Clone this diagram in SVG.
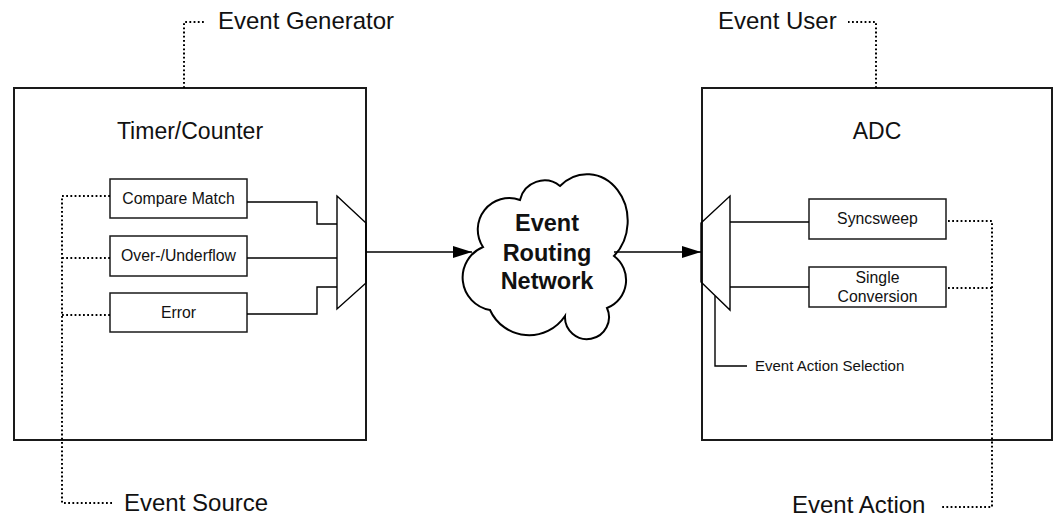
<svg xmlns="http://www.w3.org/2000/svg" width="1054" height="517" viewBox="0 0 1054 517">
<style>
.frame{fill:#fff;stroke:#1a1a1a;stroke-width:2}
.box{fill:#fff;stroke:#1a1a1a;stroke-width:1.5}
.ln{fill:none;stroke:#000;stroke-width:1.4}
.dot{fill:none;stroke:#000;stroke-width:2;stroke-dasharray:1.8 2.4}
.lbl{font-family:"Liberation Sans",Arial,sans-serif;font-size:24px;fill:#111}
.ttl{font-family:"Liberation Sans",Arial,sans-serif;font-size:23px;fill:#111;text-anchor:middle}
.sm{font-family:"Liberation Sans",Arial,sans-serif;font-size:15.8px;fill:#111}
.sel{font-family:"Liberation Sans",Arial,sans-serif;font-size:15px;fill:#111}
.big{font-family:"Liberation Sans",Arial,sans-serif;font-size:23.5px;font-weight:bold;fill:#111;text-anchor:middle}
</style>
<defs>
<marker id="arr" markerWidth="20" markerHeight="12" refX="19" refY="6" orient="auto" markerUnits="userSpaceOnUse">
<path d="M0,0 L19,6 L0,12 Z" fill="#000"/>
</marker>
</defs>

<g id="timer-counter">
<rect class="frame" x="14" y="88" width="352" height="352"/>
<text class="ttl" x="190" y="139">Timer/Counter</text>
</g>
<g id="compare-match">
<rect class="box" x="110" y="179" width="137" height="39"/>
<text class="sm" x="178.5" y="204" text-anchor="middle">Compare Match</text>
</g>
<g id="overflow">
<rect class="box" x="110" y="236" width="137" height="40"/>
<text class="sm" x="178.5" y="261" text-anchor="middle">Over-/Underflow</text>
</g>
<g id="error">
<rect class="box" x="110" y="293" width="137" height="39"/>
<text class="sm" x="178.5" y="318" text-anchor="middle">Error</text>
</g>
<g id="mux-left">
<path class="ln" d="M337,196 L366,223 L366,283 L337,309 Z" fill="#fff"/>
</g>

<g id="cloud">
<path fill="#fff" stroke="#000" stroke-width="2" d="M483,247 A31.5 31.5 0 0 1 520,200 A25 25 0 0 1 560,186 A40 46 0 1 1 614,256 A30 30 0 0 1 607,308 A22 22 0 1 1 565,316 A43 43 0 0 1 490,310 A33 33 0 0 1 483,247 Z"/>
<text class="big" x="547" y="231">Event</text>
<text class="big" x="547" y="261">Routing</text>
<text class="big" x="547" y="289">Network</text>
</g>

<g id="adc">
<rect class="frame" x="702" y="88" width="350" height="352"/>
<text class="ttl" x="877" y="139">ADC</text>
</g>
<g id="syncsweep">
<rect class="box" x="809" y="199" width="137" height="40"/>
<text class="sm" x="877.5" y="224" text-anchor="middle">Syncsweep</text>
</g>
<g id="single-conversion">
<rect class="box" x="809" y="267" width="137" height="40"/>
<text class="sm" x="877.5" y="283" text-anchor="middle">Single</text>
<text class="sm" x="877.5" y="302" text-anchor="middle">Conversion</text>
</g>
<g id="mux-right">
<path class="ln" d="M701,223 L730,196 L730,310 L701,282 Z" fill="#fff"/>
<text class="sel" x="755" y="371">Event Action Selection</text>
</g>

<g id="label-generator"><text class="lbl" x="218" y="29">Event Generator</text></g>
<g id="label-source"><text class="lbl" x="124" y="511">Event Source</text></g>
<g id="label-user"><text class="lbl" x="718" y="29">Event User</text></g>
<g id="label-action"><text class="lbl" x="792" y="513">Event Action</text></g>

<g id="connectors">
<path class="ln" d="M247,202 H317 V224 H337"/>
<path class="ln" d="M247,258 H337"/>
<path class="ln" d="M247,314 H317 V287 H337"/>
<path class="ln" d="M366,252 H472" marker-end="url(#arr)"/>
<path class="ln" d="M614,252 H701" marker-end="url(#arr)"/>
<path class="ln" d="M730,222 H809"/>
<path class="ln" d="M730,287 H809"/>
<path class="ln" d="M715,296 V366 H747"/>
<path class="dot" d="M184,88 V22 H206"/>
<path class="dot" d="M110,196 H62 V503 H112"/>
<path class="dot" d="M110,258 H62"/>
<path class="dot" d="M110,315 H62"/>
<path class="dot" d="M876,88 V22 H848"/>
<path class="dot" d="M948,221 H992 V507 H940"/>
<path class="dot" d="M948,288 H992"/>
</g>
</svg>
